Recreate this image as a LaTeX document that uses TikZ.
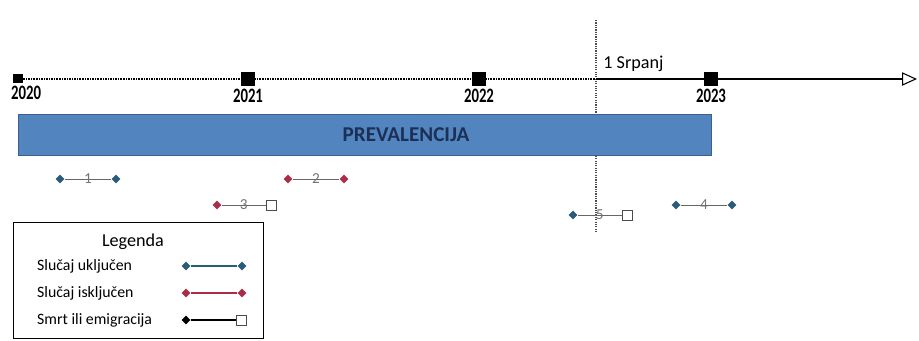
\documentclass[tikz,border=0pt]{standalone}
\usepackage{fontspec}
\setmainfont{Carlito}
\newfontfamily\yearfont[FakeStretch=0.72]{Carlito}
\usepackage{xcolor}
\usetikzlibrary{positioning,shapes.geometric,arrows.meta}

\definecolor{incblue}{RGB}{40,92,122}
\definecolor{excred}{RGB}{172,44,72}
\definecolor{barblue}{RGB}{82,132,192}
\definecolor{barline}{RGB}{60,96,140}
\definecolor{bartext}{RGB}{28,48,86}

\tikzset{
  yearbox/.style={rectangle, fill=black, minimum size=0.42cm, inner sep=0pt},
  yearlabel/.style={font=\yearfont\fontsize{17.5}{17.5}\selectfont\bfseries, inner sep=1pt},
  incmark/.style={diamond, fill=incblue, minimum size=0.27cm, inner sep=0pt},
  excmark/.style={diamond, fill=excred, minimum size=0.27cm, inner sep=0pt},
  deadmark/.style={diamond, fill=black, minimum size=0.27cm, inner sep=0pt},
  endmark/.style={rectangle, draw=black!70, fill=white, minimum size=0.3cm, inner sep=0pt},
  caselabel/.style={font=\fontsize{13}{13}\selectfont, text=black!55, inner sep=0pt},
  caseline/.style={draw=black!60, line width=0.7pt},
  legendtext/.style={font=\fontsize{13.5}{13.5}\selectfont, anchor=west, inner sep=0pt},
  axisdots/.style={line width=1.1pt, dash pattern=on 0.7pt off 0.7pt}
}

\begin{document}
\begin{tikzpicture}[x=0.03cm, y=-0.03cm]
\useasboundingbox (0,0) rectangle (919,341);

% 1 Srpanj marker, behind the bar
\coordinate (vtop) at (596,20);
\coordinate (vbot) at (596,232);
\draw[line width=1pt, dash pattern=on 1pt off 1pt, black!70] (vtop) -- (vbot);
\node (srpanj) [anchor=south west, font=\fontsize{15.5}{15.5}\selectfont, inner sep=1pt] at (602,73) {1 Srpanj};

% time axis
\node (y2020) [rectangle, fill=black, minimum size=0.27cm, inner sep=0pt] at (18,79) {};
\node (y2021) [yearbox] at (248,79) {};
\node (y2022) [yearbox] at (479,79) {};
\node (y2023) [yearbox] at (711,79) {};
\coordinate (cut) at (596,79);
\coordinate (axisend) at (917,79);

\draw[axisdots] (y2020) -- (y2021);
\draw[axisdots] (y2021) -- (y2022);
\draw[axisdots] (y2022) -- (cut);
\draw[line width=0.9pt] (cut) -- (y2023);
\draw[line width=0.9pt, -{Triangle[open, length=0.45cm, width=0.4cm]}] (y2023) -- (axisend);

\node (l2020) [yearlabel, below=1pt of y2020.south west, anchor=north west, xshift=-3pt] {2020};
\node (l2021) [yearlabel, below=1pt of y2021] {2021};
\node (l2022) [yearlabel, below=1pt of y2022] {2022};
\node (l2023) [yearlabel, below=1pt of y2023] {2023};

% prevalence bar
\node (prev) [rectangle, draw=barline, line width=1pt, fill=barblue, minimum width=20.79cm, minimum height=1.23cm, anchor=north west] at (18,114) {};
\node (prevlabel) [font=\fontsize{18}{18}\selectfont\bfseries, text=bartext] at (406,135) {PREVALENCIJA};

% cases
\node (c1a) [incmark] at (60,179) {};
\node (c1b) [incmark] at (116,179) {};
\draw[caseline] (c1a) -- node[caselabel] {1} (c1b);

\node (c2a) [excmark] at (288,179) {};
\node (c2b) [excmark] at (344,179) {};
\draw[caseline] (c2a) -- node[caselabel] {2} (c2b);

\node (c3a) [excmark] at (217,205) {};
\node (c3b) [endmark] at (271,205) {};
\draw[caseline] (c3a) -- node[caselabel] {3} (c3b);

\node (c4a) [incmark] at (676,205) {};
\node (c4b) [incmark] at (732,205) {};
\draw[caseline] (c4a) -- node[caselabel] {4} (c4b);

\node (c5a) [incmark] at (573,215) {};
\node (c5b) [endmark] at (627,215) {};
\draw[caseline] (c5a) -- node[caselabel] {5} (c5b);

% legend
\node (legend) [rectangle, draw=black, line width=1pt, fill=white, minimum width=7.5cm, minimum height=3.48cm, anchor=north west] at (13,222) {};
\node (legtitle) [font=\fontsize{15.5}{15.5}\selectfont, inner sep=0pt] at (133,242) {Legenda};

\node (leg1) [legendtext] at (37,266) {Slučaj uključen};
\node (leg1a) [incmark] at (186,266) {};
\node (leg1b) [incmark] at (242,266) {};
\draw[incblue, line width=1.2pt] (leg1a) -- (leg1b);

\node (leg2) [legendtext] at (37,293) {Slučaj isključen};
\node (leg2a) [excmark] at (186,293) {};
\node (leg2b) [excmark] at (242,293) {};
\draw[excred, line width=1.2pt] (leg2a) -- (leg2b);

\node (leg3) [legendtext] at (37,320) {Smrt ili emigracija};
\node (leg3a) [deadmark] at (186,320) {};
\node (leg3b) [endmark] at (241,320) {};
\draw[black, line width=1.2pt] (leg3a) -- (leg3b);

\end{tikzpicture}
\end{document}
